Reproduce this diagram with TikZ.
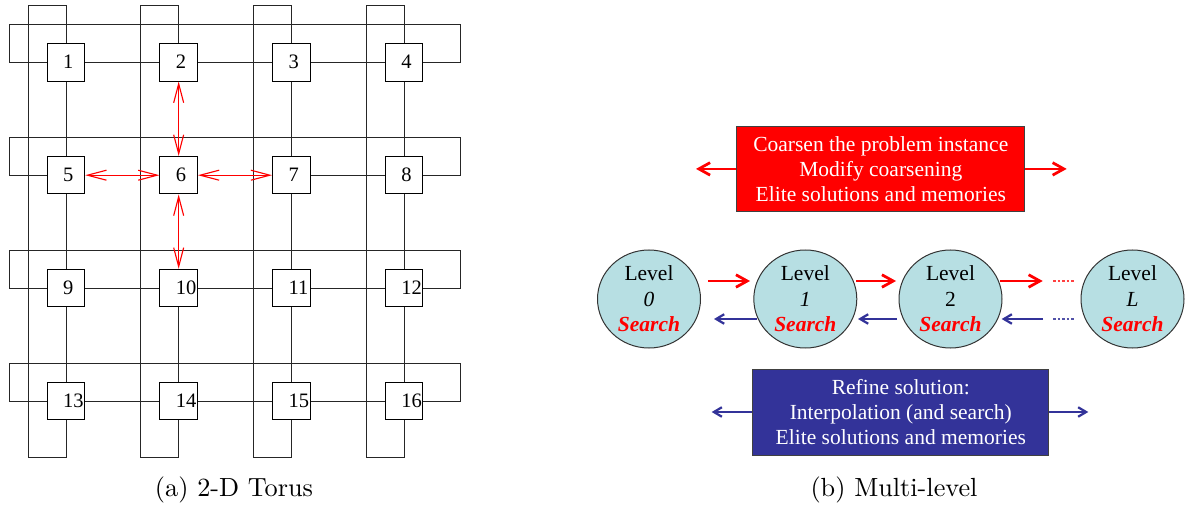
\documentclass[tikz,border=0pt]{standalone}
\usepackage{fontspec}
\newfontfamily\tms{Liberation Serif}
\usetikzlibrary{arrows.meta,shapes.geometric}
\definecolor{coarse}{RGB}{255,0,0}
\definecolor{refine}{RGB}{51,51,153}
\definecolor{levelfill}{RGB}{183,223,227}
\newcommand\srch{\textcolor{red}{\textbf{\textit{Search}}}}
\begin{document}
\begin{tikzpicture}[x=0.4pt, y=-0.4pt,
  tnode/.style={draw, line width=0.4pt, fill=white, minimum size=15pt, inner sep=0pt,
    font=\tms\fontsize{8.2}{10}\selectfont},
  tlink/.style={draw=black!85, line width=0.4pt},
  hop/.style={red, line width=0.45pt,
    {Straight Barb[length=7.6pt,width=4pt]}-{Straight Barb[length=7.6pt,width=4pt]}},
  mtext/.style={align=center, font=\tms\fontsize{8.6}{10}\selectfont},
  coarsebox/.style={mtext, draw=black!75, line width=0.4pt, fill=coarse, text=white,
    minimum width=115.3pt, minimum height=34.3pt},
  refinebox/.style={mtext, draw=black!75, line width=0.4pt, fill=refine, text=white,
    minimum width=118.5pt, minimum height=34.4pt},
  level/.style={ellipse, draw=black!80, line width=0.4pt, fill=levelfill,
    minimum width=41.2pt, minimum height=39.2pt, inner sep=0pt},
  lvltext/.style={align=center, inner sep=0pt, font=\tms\fontsize{8.6}{10.2}\selectfont},
  coarsearr/.style={draw=coarse, line width=1.1pt, -{Straight Barb[length=4.5pt,width=5pt]}},
  refinearr/.style={draw=refine, line width=0.9pt, -{Straight Barb[length=3.2pt,width=3.8pt]}},
  gap/.style={line width=0.6pt, dash pattern=on 1pt off 0.8pt},
  caption/.style={font=\fontsize{10.5}{12}\selectfont}
]
\useasboundingbox (0,0) rectangle (1187,506);

% ---------- (a) 2-D torus ----------
\foreach \j in {0,...,3}{
  \foreach \i in {0,...,3}{
    \pgfmathtruncatemacro\n{4*\j+\i+1}
    \node[tnode] (t\n) at ({66+112.67*\i},{62.3+112.9*\j})
      {\makebox[15pt][l]{\hspace{6.4pt}\raisebox{0.6pt}{\n}}};
  }
}
% grid links
\foreach \a/\b in {1/2,2/3,3/4,7/8,9/10,10/11,11/12,13/14,14/15,15/16,
                   1/5,5/9,9/13,3/7,7/11,11/15,4/8,8/12,12/16,10/14}
  \draw[tlink] (t\a) -- (t\b);
% wrap-around links of the columns
\foreach \i in {1,...,4}{
  \pgfmathtruncatemacro\b{\i+12}
  \pgfmathsetmacro\wx{66+112.67*(\i-1)-38}
  \draw[tlink] (t\i.north) |- (\wx,6) -- (\wx,457) -| (t\b.south);
}
% wrap-around links of the rows
\foreach \j in {0,...,3}{
  \pgfmathtruncatemacro\a{4*\j+1}
  \pgfmathtruncatemacro\b{4*\j+4}
  \pgfmathsetmacro\wy{62.3+112.9*\j-37.7}
  \draw[tlink] (t\a.west) -| (9,\wy) -- (460,\wy) |- (t\b.east);
}
% neighbourhood of node 6
\draw[hop] (t2) -- (t6);
\draw[hop] (t5) -- (t6);
\draw[hop] (t6) -- (t7);
\draw[hop] (t6) -- (t10);

\node[caption] (capa) at (234,490) {(a) 2-D Torus};

% ---------- (b) multi-level ----------
\node[coarsebox] (coarsen) at (880.8,168.9)
  {Coarsen the problem instance\\Modify coarsening\\Elite solutions and memories};
\coordinate (cl) at (696,168.9);
\coordinate (cr) at (1066.7,168.9);
\draw[coarsearr] (coarsen.west) -- (cl);
\draw[coarsearr] (coarsen.east) -- (cr);

\node[refinebox] (refinen) at (900.8,412)
  {Refine solution:\\Interpolation (and search)\\Elite solutions and memories};
\coordinate (rl) at (711.7,412);
\coordinate (rr) at (1088.3,412);
\draw[refinearr] (refinen.west) -- (rl);
\draw[refinearr] (refinen.east) -- (rr);

\node[level, label={[lvltext]center:Level\\\textit{0}\\\srch}] (l0) at (649,299) {};
\node[level, label={[lvltext]center:Level\\\textit{1}\\\srch}] (l1) at (805.3,299) {};
\node[level, label={[lvltext]center:Level\\2\\\srch}] (l2) at (950.5,299) {};
\node[level, label={[lvltext]center:Level\\\textit{L}\\\srch}] (lL) at (1132.5,299) {};

% coarsening direction
\coordinate (u0a) at (708,281);   \coordinate (u0b) at (750,281);
\coordinate (u1a) at (856,281);   \coordinate (u1b) at (896,281);
\coordinate (u2a) at (1000,281);  \coordinate (u2b) at (1042.7,281);
\draw[coarsearr] (u0a) -- (u0b);
\draw[coarsearr] (u1a) -- (u1b);
\draw[coarsearr] (u2a) -- (u2b);
% refinement direction
\coordinate (d0a) at (756.7,319); \coordinate (d0b) at (714,319);
\coordinate (d1a) at (897,319);   \coordinate (d1b) at (858,319);
\coordinate (d2a) at (1043,319);  \coordinate (d2b) at (1001.7,319);
\draw[refinearr] (d0a) -- (d0b);
\draw[refinearr] (d1a) -- (d1b);
\draw[refinearr] (d2a) -- (d2b);
% omitted intermediate levels
\coordinate (g1a) at (1053,281); \coordinate (g1b) at (1075,281);
\coordinate (g2a) at (1053,319); \coordinate (g2b) at (1075,319);
\draw[gap, red!75] (g1a) -- (g1b);
\draw[gap, refine!85] (g2a) -- (g2b);

\node[caption] (capb) at (894,490) {(b) Multi-level};
\end{tikzpicture}
\end{document}
